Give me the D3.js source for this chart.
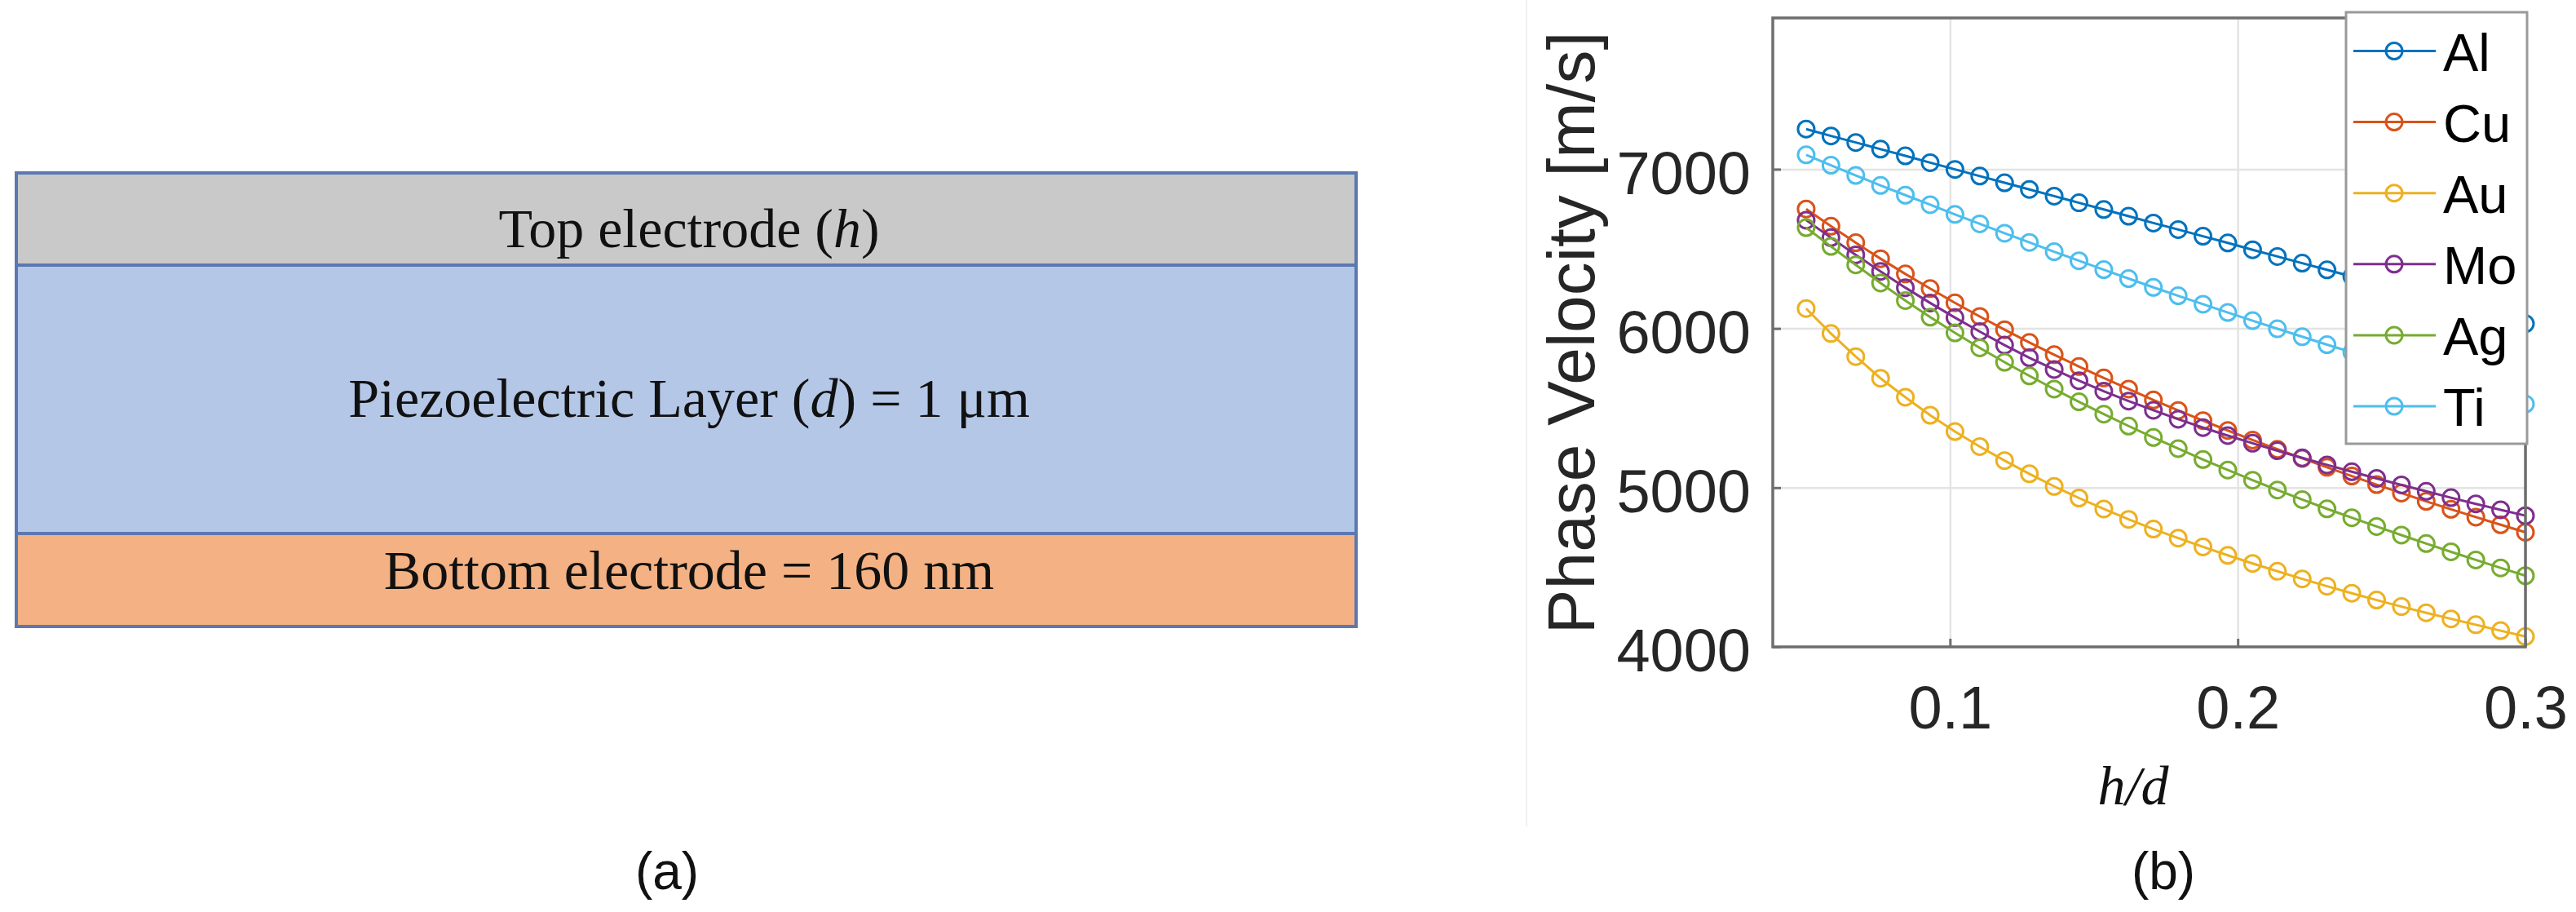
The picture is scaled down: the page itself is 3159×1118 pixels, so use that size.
<!DOCTYPE html>
<html>
<head>
<meta charset="utf-8">
<script src="https://cdnjs.cloudflare.com/ajax/libs/d3/7.8.5/d3.min.js"></script>
<style>
  body { margin: 0; background: #fff; }
  svg { display: block; }
</style>
</head>
<body>
<script>
// h/d sample points (30 points from 0.05 to 0.30)
var hd = [0.05, 0.058621, 0.067241, 0.075862, 0.084483, 0.093103, 0.101724, 0.110345,
  0.118966, 0.127586, 0.136207, 0.144828, 0.153448, 0.162069, 0.170690, 0.179310,
  0.187931, 0.196552, 0.205172, 0.213793, 0.222414, 0.231034, 0.239655, 0.248276,
  0.256897, 0.265517, 0.274138, 0.282759, 0.291379, 0.30];

var metals = ["Al", "Cu", "Au", "Mo", "Ag", "Ti"];

// phase velocity [m/s]
var vAl = [7252, 7209, 7168, 7126, 7084, 7041, 6999, 6957, 6915, 6873, 6831, 6789, 6747, 6705, 6662,
  6621, 6579, 6537, 6494, 6452, 6410, 6368, 6326, 6284, 6242, 6200, 6158, 6116, 6073, 6030];
var vCu = [6750, 6642, 6538, 6438, 6342, 6250, 6161, 6075, 5992, 5912, 5835, 5761, 5689, 5619, 5551,
  5485, 5421, 5359, 5299, 5241, 5184, 5128, 5073, 5019, 4966, 4914, 4864, 4815, 4767, 4720];
var vAu = [6125, 5968, 5823, 5687, 5568, 5455, 5352, 5258, 5170, 5087, 5008, 4935, 4866, 4801, 4740,
  4683, 4628, 4575, 4524, 4475, 4427, 4381, 4337, 4294, 4253, 4214, 4176, 4139, 4102, 4065];
var vMo = [6680, 6570, 6462, 6358, 6256, 6160, 6068, 5980, 5895, 5816, 5742, 5672, 5606, 5544, 5486,
  5430, 5377, 5327, 5279, 5232, 5187, 5143, 5100, 5058, 5017, 4977, 4937, 4898, 4861, 4824];
var vAg = [6633, 6515, 6399, 6285, 6175, 6071, 5972, 5878, 5788, 5702, 5619, 5539, 5462, 5387, 5315,
  5245, 5177, 5111, 5047, 4985, 4925, 4867, 4811, 4756, 4702, 4649, 4597, 4546, 4496, 4447];
var vTi = [7090, 7025, 6961, 6898, 6837, 6777, 6716, 6657, 6598, 6540, 6482, 6425, 6369, 6313, 6258,
  6205, 6152, 6100, 6049, 5998, 5948, 5898, 5850, 5802, 5755, 5709, 5663, 5617, 5571, 5525];

var xTicks = [0.1, 0.2, 0.3];
var yTicks = [4000, 5000, 6000, 7000];

// layer stack of panel (a), top to bottom
var layerText = [
  [["Top electrode (", false], ["h", true], [")", false]],
  [["Piezoelectric Layer (", false], ["d", true], [") = 1 \u03bcm", false]],
  [["Bottom electrode = 160 nm", false]]
];

var series = [vAl, vCu, vAu, vMo, vAg, vTi];

var W = 3159, H = 1118;
var colors = ["#0072BD", "#D95319", "#EDB120", "#7E2F8E", "#77AC30", "#4DBEEE"];
var sans = "'Liberation Sans', Arial, Helvetica, sans-serif";
var serif = "'Liberation Serif', 'Times New Roman', serif";

var svg = d3.select("body").append("svg")
  .attr("width", W)
  .attr("height", H);

svg.append("rect")
  .attr("width", W).attr("height", H)
  .attr("fill", "#fff");

// ---------- panel (a): layer diagram ----------
var stackX = 20, stackW = 1643;
var layerY = [212, 325, 654];
var layerH = [113, 329, 114];
var layerFill = ["#c9c9c9", "#b4c7e7", "#f4b183"];
var layerBase = [303, 511, 722];

var diag = svg.append("g");

diag.selectAll("rect.layer")
  .data(layerText)
  .enter()
  .append("rect")
  .attr("class", "layer")
  .attr("x", stackX)
  .attr("y", (d, i) => layerY[i])
  .attr("width", stackW)
  .attr("height", (d, i) => layerH[i])
  .attr("fill", (d, i) => layerFill[i])
  .attr("stroke", "#5b78b1")
  .attr("stroke-width", 4);

diag.selectAll("text.layer")
  .data(layerText)
  .enter()
  .append("text")
  .attr("class", "layer")
  .attr("x", 845)
  .attr("y", (d, i) => layerBase[i])
  .attr("text-anchor", "middle")
  .style("font-family", serif)
  .style("font-size", "68px")
  .attr("fill", "#111")
  .each(function (parts) {
    var t = d3.select(this);
    parts.forEach(function (p) {
      t.append("tspan").text(p[0]).style("font-style", p[1] ? "italic" : "normal");
    });
  });

svg.append("text")
  .attr("x", 818).attr("y", 1090)
  .attr("text-anchor", "middle")
  .style("font-family", sans)
  .style("font-size", "64px")
  .attr("fill", "#111")
  .text("(a)");

// faint edge of the embedded plot image
svg.append("line")
  .attr("x1", 1872).attr("x2", 1872)
  .attr("y1", 0).attr("y2", 1013)
  .attr("stroke", "#f1f1f1")
  .attr("stroke-width", 2);

// ---------- panel (b): phase velocity vs h/d ----------
var plot = { left: 2174, right: 3097, top: 22, bottom: 793 };

var xScale = d3.scaleLinear()
  .domain([0.0384, 0.3])
  .range([plot.left, plot.right]);

var yScale = d3.scaleLinear()
  .domain([4000, 7950])
  .range([plot.bottom, plot.top]);

// grid
svg.append("g")
  .attr("class", "grid")
  .attr("transform", `translate(0, ${plot.bottom})`)
  .call(d3.axisBottom(xScale).tickValues(xTicks).tickSize(-(plot.bottom - plot.top)).tickFormat(""))
  .call(g => g.select(".domain").remove());

svg.append("g")
  .attr("class", "grid")
  .attr("transform", `translate(${plot.left}, 0)`)
  .call(d3.axisLeft(yScale).tickValues(yTicks).tickSize(-(plot.right - plot.left)).tickFormat(""))
  .call(g => g.select(".domain").remove());

svg.selectAll(".grid line")
  .attr("stroke", "#e4e4e4")
  .attr("stroke-width", 2.5);

// lines + circle markers
var line = d3.line()
  .x((d, i) => xScale(hd[i]))
  .y(d => yScale(d));

var lines = svg.append("g");

series.forEach(function (vals, k) {
  var g = lines.append("g").attr("class", "series-" + metals[k]);
  g.append("path")
    .datum(vals)
    .attr("d", line)
    .attr("fill", "none")
    .attr("stroke", colors[k])
    .attr("stroke-width", 3);
  g.selectAll("circle")
    .data(vals)
    .enter()
    .append("circle")
    .attr("cx", (d, i) => xScale(hd[i]))
    .attr("cy", d => yScale(d))
    .attr("r", 10)
    .attr("fill", "none")
    .attr("stroke", colors[k])
    .attr("stroke-width", 3);
});

// axes box
svg.append("rect")
  .attr("x", plot.left).attr("y", plot.top)
  .attr("width", plot.right - plot.left)
  .attr("height", plot.bottom - plot.top)
  .attr("fill", "none")
  .attr("stroke", "#6e6e6e")
  .attr("stroke-width", 3.5);

var xAxis = d3.axisBottom(xScale)
  .tickValues(xTicks)
  .tickSizeInner(-10)
  .tickSizeOuter(0)
  .tickPadding(47)
  .tickFormat(d3.format(".1f"));

var yAxis = d3.axisLeft(yScale)
  .tickValues(yTicks)
  .tickSizeInner(-10)
  .tickSizeOuter(0)
  .tickPadding(27)
  .tickFormat(d3.format("d"));

svg.append("g")
  .attr("id", "x-axis")
  .attr("transform", `translate(0, ${plot.bottom})`)
  .call(xAxis);

svg.append("g")
  .attr("id", "y-axis")
  .attr("transform", `translate(${plot.left}, 0)`)
  .call(yAxis)
  .selectAll("text").attr("dy", "0.4em");

svg.selectAll("#x-axis .domain, #y-axis .domain").remove();
svg.selectAll("#x-axis line, #y-axis line")
  .attr("stroke", "#6e6e6e")
  .attr("stroke-width", 3);
svg.selectAll("#x-axis text, #y-axis text")
  .style("font-family", sans)
  .style("font-size", "74px")
  .attr("fill", "#262626");

// axis labels
svg.append("text")
  .attr("transform", "translate(1955, 408) rotate(-90)")
  .attr("text-anchor", "middle")
  .style("font-family", sans)
  .style("font-size", "82px")
  .attr("fill", "#262626")
  .text("Phase Velocity [m/s]");

svg.append("text")
  .attr("x", 2616).attr("y", 986)
  .attr("text-anchor", "middle")
  .style("font-family", serif)
  .style("font-style", "italic")
  .style("font-size", "68px")
  .attr("fill", "#111")
  .text("h/d");

svg.append("text")
  .attr("x", 2653).attr("y", 1090)
  .attr("text-anchor", "middle")
  .style("font-family", sans)
  .style("font-size", "64px")
  .attr("fill", "#111")
  .text("(b)");

// legend
var legend = svg.append("g").attr("id", "legend");

legend.append("rect")
  .attr("x", 2877).attr("y", 15)
  .attr("width", 222).attr("height", 529)
  .attr("fill", "#fff")
  .attr("stroke", "#9a9a9a")
  .attr("stroke-width", 3);

var rowY = d3.scalePoint()
  .domain(metals)
  .range([62.5, 498]);

var item = legend.selectAll("g.item")
  .data(metals)
  .enter()
  .append("g")
  .attr("class", "item")
  .attr("transform", d => `translate(0, ${rowY(d)})`);

item.append("line")
  .attr("x1", 2886).attr("x2", 2987)
  .attr("y1", 0).attr("y2", 0)
  .attr("stroke", (d, i) => colors[i])
  .attr("stroke-width", 3);

item.append("circle")
  .attr("cx", 2936).attr("cy", 0)
  .attr("r", 10)
  .attr("fill", "none")
  .attr("stroke", (d, i) => colors[i])
  .attr("stroke-width", 3);

item.append("text")
  .attr("x", 2996).attr("y", 24)
  .style("font-family", sans)
  .style("font-size", "65px")
  .attr("fill", "#000")
  .text(d => d);
</script>
</body>
</html>
